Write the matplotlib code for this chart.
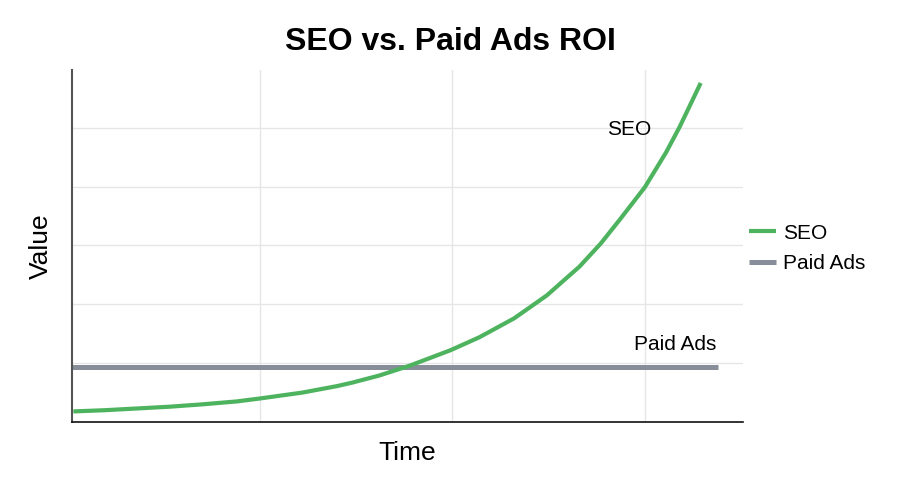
import matplotlib
matplotlib.use("Agg")
import matplotlib.pyplot as plt

plt.rcParams['font.family'] = ['Liberation Sans', 'DejaVu Sans']

# Data
seo_t = [0.03, 0.19, 0.36, 0.53, 0.70, 0.88, 1.00, 1.22, 1.40, 1.48, 1.62, 1.78,
         1.99, 2.14, 2.32, 2.49, 2.66, 2.77, 2.87, 3.00, 3.11, 3.18, 3.23, 3.29]
seo_v = [0.18, 0.20, 0.23, 0.26, 0.30, 0.35, 0.40, 0.50, 0.61, 0.67, 0.79, 0.96,
         1.22, 1.44, 1.76, 2.15, 2.64, 3.03, 3.44, 3.99, 4.58, 5.01, 5.35, 5.76]
paid_t = [0.023, 3.38]
paid_v = [0.94, 0.94]

title = "SEO vs. Paid Ads ROI"
x_label = "Time"
y_label = "Value"
series_names = ["SEO", "Paid Ads"]

green = '#4DB35E'
gray = '#878E99'

fig = plt.figure(figsize=(9, 4.91), dpi=100)
ax = fig.add_axes([0.08, 0.1405, 0.7456, 0.7169])

ax.plot(seo_t, seo_v, color=green, lw=3.0, label=series_names[0],
        solid_capstyle='butt', solid_joinstyle='round', zorder=3)
ax.plot(paid_t, paid_v, color=gray, lw=3.6, label=series_names[1],
        solid_capstyle='butt', zorder=2)

ax.set_xlim(0.023, 3.51)
ax.set_ylim(0, 5.98)
ax.set_xticks([1, 2, 3])
ax.set_yticks([1, 2, 3, 4, 5])
ax.tick_params(length=0, labelbottom=False, labelleft=False)
ax.grid(True, color='#E6E6E6', lw=1.0, zorder=0)
ax.set_axisbelow(True)

for s in ['top', 'right']:
    ax.spines[s].set_visible(False)
ax.spines['left'].set_color('#555555')
ax.spines['left'].set_linewidth(1.5)
ax.spines['bottom'].set_color('#111111')
ax.spines['bottom'].set_linewidth(1.2)

ax.set_xlabel(x_label, fontsize=19, labelpad=14)
ax.set_ylabel(y_label, fontsize=19, labelpad=14)
fig.text(0.5, 0.914, title, fontsize=23, fontweight='bold', ha='center', va='center')

ax.text(2.92, 4.97, series_names[0], fontsize=15, ha='center', va='center')
ax.text(3.37, 1.31, series_names[1], fontsize=15, ha='right', va='center')

fig.legend(loc='center left', bbox_to_anchor=(0.832, 0.494), frameon=False,
           borderaxespad=0, borderpad=0, handlelength=1.3, handletextpad=0.35,
           labelspacing=0.55, fontsize=15)

fig.savefig('out.png', dpi=100, facecolor='white')
